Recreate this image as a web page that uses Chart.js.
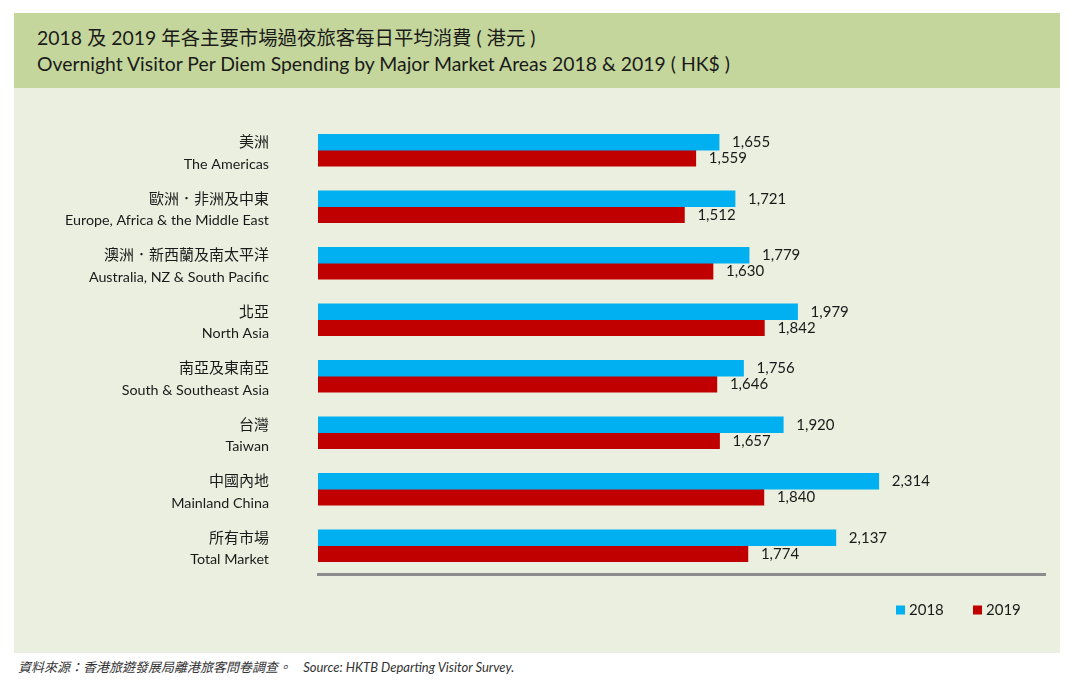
<!DOCTYPE html>
<html lang="zh-Hant">
<head>
    <meta charset="UTF-8">
    <title>Overnight Visitor Per Diem Spending</title>
    <script src="https://cdn.jsdelivr.net/npm/chart.js"></script>
    <style>
        body {
            margin: 0;
            background: #ffffff;
            font-family: Lato, "Noto Sans CJK TC", sans-serif;
        }
        .page {
            position: relative;
            width: 1080px;
            height: 683px;
            overflow: hidden;
        }
        .header {
            position: absolute;
            left: 14px;
            top: 13px;
            width: 1046px;
            height: 75px;
            background: #c4d69c;
        }
        .header div {
            position: absolute;
            left: 23px;
            font-size: 19.4px;
            color: #1a1a1a;
            white-space: nowrap;
        }
        .panel {
            position: absolute;
            left: 14px;
            top: 88px;
            width: 1046px;
            height: 565px;
            background: #ebefdf;
        }
        .source {
            position: absolute;
            left: 18px;
            top: 657px;
            font-size: 13px;
            font-style: italic;
            color: #333;
            white-space: nowrap;
        }
    </style>
</head>
<body>
<div class="page">
    <div class="header">
        <div style="top: 9px;">2018 及 2019 年各主要市場過夜旅客每日平均消費 ( 港元 )</div>
        <div style="top: 39px;">Overnight Visitor Per Diem Spending by Major Market Areas 2018 &amp; 2019 ( HK$ )</div>
    </div>
    <div class="panel">
        <canvas id="spendChart" width="1046" height="565"></canvas>
    </div>
    <div class="source">資料來源：香港旅遊發展局離港旅客問卷調查。&nbsp;&nbsp;&nbsp; Source: HKTB Departing Visitor Survey.</div>
</div>

<script>
    // Market areas (Chinese / English)
    const marketsZh = ["美洲", "歐洲．非洲及中東", "澳洲．新西蘭及南太平洋", "北亞", "南亞及東南亞", "台灣", "中國內地", "所有市場"];
    const marketsEn = ["The Americas", "Europe, Africa & the Middle East", "Australia, NZ & South Pacific", "North Asia", "South & Southeast Asia", "Taiwan", "Mainland China", "Total Market"];

    // Per diem spending, HK$
    const spend2018 = [1655, 1721, 1779, 1979, 1756, 1920, 2314, 2137];
    const spend2019 = [1559, 1512, 1630, 1842, 1646, 1657, 1840, 1774];

    const seriesNames = ["2018", "2019"];
    const seriesColors = ["#00b0f0", "#c00000"];

    const labelFont = "Lato, 'Noto Sans CJK TC', sans-serif";

    // two-line category labels: Chinese (slightly larger) above English
    const categoryLabels = {
        id: "categoryLabels",
        afterDraw(chart) {
            const ctx = chart.ctx;
            const yScale = chart.scales.y;
            const x = chart.chartArea.left - 49;
            ctx.save();
            ctx.fillStyle = "#1a1a1a";
            ctx.textAlign = "right";
            ctx.textBaseline = "middle";
            chart.data.labels.forEach((lbl, i) => {
                const y = yScale.getPixelForTick(i);
                ctx.font = "15px " + labelFont;
                ctx.fillText(lbl[0], x, y - 8);
                ctx.font = "14.3px " + labelFont;
                ctx.fillText(lbl[1], x, y + 14);
            });
            ctx.restore();
        }
    };

    // value labels at the end of each bar
    const valueLabels = {
        id: "valueLabels",
        afterDatasetsDraw(chart) {
            const ctx = chart.ctx;
            ctx.save();
            ctx.font = "15px " + labelFont;
            ctx.fillStyle = "#1a1a1a";
            ctx.textBaseline = "middle";
            ctx.textAlign = "left";
            chart.data.datasets.forEach((ds, i) => {
                chart.getDatasetMeta(i).data.forEach((bar, j) => {
                    ctx.fillText(ds.data[j].toLocaleString("en-US"), bar.x + 13, bar.y);
                });
            });
            ctx.restore();
        }
    };

    // small square legend at the bottom right
    const cornerLegend = {
        id: "cornerLegend",
        afterDraw(chart) {
            const ctx = chart.ctx;
            ctx.save();
            ctx.font = "15px " + labelFont;
            ctx.textBaseline = "middle";
            let x = 882;
            const y = 522;
            chart.data.datasets.forEach(ds => {
                ctx.fillStyle = ds.backgroundColor;
                ctx.fillRect(x, y - 4.5, 9, 9);
                ctx.fillStyle = "#1a1a1a";
                ctx.fillText(ds.label, x + 13, y);
                x += 77;
            });
            ctx.restore();
        }
    };

    new Chart(document.getElementById("spendChart"), {
        type: "bar",
        data: {
            labels: marketsZh.map((zh, i) => [zh, marketsEn[i]]),
            datasets: [
                { label: seriesNames[0], data: spend2018, backgroundColor: seriesColors[0], barThickness: 16 },
                { label: seriesNames[1], data: spend2019, backgroundColor: seriesColors[1], barThickness: 16 }
            ]
        },
        options: {
            indexAxis: "y",
            responsive: false,
            animation: false,
            layout: {
                padding: { top: 34, right: 15, bottom: 79, left: 0 }
            },
            scales: {
                x: {
                    min: 0,
                    max: 3000,
                    ticks: { display: false },
                    grid: { display: false },
                    border: { display: true, color: "#8c8c8c", width: 3 },
                    afterFit(scale) {
                        scale.height = 0;
                        scale.paddingLeft = 0;
                        scale.paddingRight = 0;
                    }
                },
                y: {
                    grid: { display: false, drawTicks: false },
                    border: { display: false },
                    ticks: { display: false },
                    afterFit(scale) {
                        scale.width = 304;
                        scale.paddingTop = 0;
                        scale.paddingBottom = 0;
                    }
                }
            },
            plugins: {
                legend: { display: false },
                tooltip: { enabled: false }
            }
        },
        plugins: [categoryLabels, valueLabels, cornerLegend]
    });
</script>
</body>
</html>
